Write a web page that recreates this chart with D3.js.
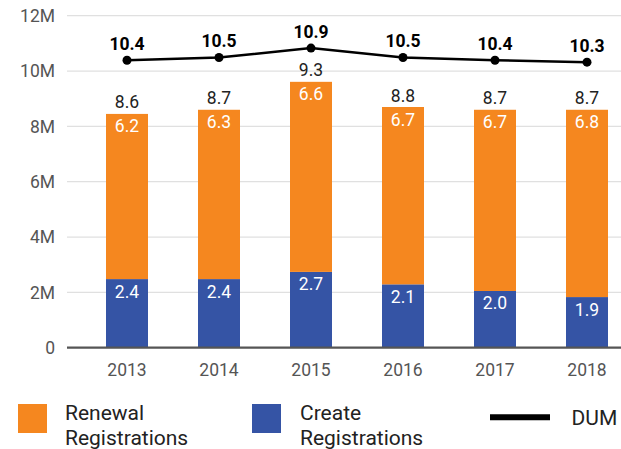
<!DOCTYPE html>
<html>
<head>
<meta charset="utf-8">
<script src="https://cdn.jsdelivr.net/npm/d3@7"></script>
<style>
  body { margin: 0; background: #fff; }
  svg { font-family: Roboto, "Noto Sans", sans-serif; }
</style>
</head>
<body>
<svg id="chart"></svg>
<script>
const years = ["2013", "2014", "2015", "2016", "2017", "2018"];
// bar heights as drawn (millions)
const createValues = [2.48, 2.48, 2.74, 2.29, 2.05, 1.83];
const renewalValues = [5.97, 6.12, 6.87, 6.41, 6.55, 6.77];
const dumValues = [10.39, 10.49, 10.83, 10.49, 10.39, 10.32];
// labels as printed
const createLabels = ["2.4", "2.4", "2.7", "2.1", "2.0", "1.9"];
const renewalLabels = ["6.2", "6.3", "6.6", "6.7", "6.7", "6.8"];
const totalLabels = ["8.6", "8.7", "9.3", "8.8", "8.7", "8.7"];
const dumLabels = ["10.4", "10.5", "10.9", "10.5", "10.4", "10.3"];
const yTicks = [0, 2, 4, 6, 8, 10, 12];

const W = 621, H = 449;
const orange = "#f5871f", blue = "#3554a5";

const svg = d3.select("#chart").attr("width", W).attr("height", H);

const x = d3.scaleBand().domain(years).range([81, 633])
    .paddingInner(0.5435).paddingOuter(0.27175);
const y = d3.scaleLinear().domain([0, 12]).range([347.7, 15.7]);

// grid
svg.append("g")
    .selectAll("line")
    .data(yTicks.filter(d => d > 0))
    .enter().append("line")
        .attr("x1", 67).attr("x2", W)
        .attr("y1", d => y(d)).attr("y2", d => y(d))
        .attr("stroke", "#e0e0e0").attr("stroke-width", 1.2);

// y tick labels
svg.append("g")
    .selectAll("text")
    .data(yTicks)
    .enter().append("text")
        .attr("x", 55)
        .attr("y", d => y(d) + 6.3)
        .attr("text-anchor", "end")
        .attr("fill", "#555")
        .style("font-size", "17.5px")
        .text(d => d === 0 ? "0" : d + "M");

const data = years.map((yr, i) => ({
    yr, c: createValues[i], r: renewalValues[i], dum: dumValues[i], i
}));

// create bars
svg.append("g").selectAll("rect")
    .data(data)
    .enter().append("rect")
        .attr("x", d => x(d.yr))
        .attr("width", x.bandwidth())
        .attr("y", d => y(d.c))
        .attr("height", d => y(0) - y(d.c))
        .attr("fill", blue);

// renewal bars
svg.append("g").selectAll("rect")
    .data(data)
    .enter().append("rect")
        .attr("x", d => x(d.yr))
        .attr("width", x.bandwidth())
        .attr("y", d => y(d.c + d.r))
        .attr("height", d => y(d.c) - y(d.c + d.r))
        .attr("fill", orange);

// axis line
svg.append("line")
    .attr("x1", 67).attr("x2", W)
    .attr("y1", y(0)).attr("y2", y(0))
    .attr("stroke", "#555").attr("stroke-width", 2.2);

// x labels
svg.append("g").selectAll("text")
    .data(years)
    .enter().append("text")
        .attr("x", d => x(d) + x.bandwidth() / 2)
        .attr("y", 375.7)
        .attr("text-anchor", "middle")
        .attr("fill", "#555")
        .style("font-size", "17.5px")
        .text(d => d);

const cx = d => x(d.yr) + x.bandwidth() / 2;

// bar labels
const labels = svg.append("g").attr("text-anchor", "middle").style("font-size", "17.5px");
labels.selectAll(".cl").data(data).enter().append("text")
    .attr("x", cx).attr("y", d => y(d.c) + 18.5)
    .attr("fill", "#fff").text(d => createLabels[d.i]);
labels.selectAll(".rl").data(data).enter().append("text")
    .attr("x", cx).attr("y", d => y(d.c + d.r) + 18.5)
    .attr("fill", "#fff").text(d => renewalLabels[d.i]);
labels.selectAll(".tl").data(data).enter().append("text")
    .attr("x", cx).attr("y", d => y(d.c + d.r) - 5.5)
    .attr("fill", "#222").text(d => totalLabels[d.i]);

// DUM line
const line = d3.line().x(cx).y(d => y(d.dum));
svg.append("path")
    .datum(data)
    .attr("d", line)
    .attr("fill", "none")
    .attr("stroke", "#000")
    .attr("stroke-width", 2.5);
svg.append("g").selectAll("circle")
    .data(data)
    .enter().append("circle")
        .attr("cx", cx).attr("cy", d => y(d.dum))
        .attr("r", 4.5).attr("fill", "#000");
svg.append("g").selectAll("text")
    .data(data)
    .enter().append("text")
        .attr("x", cx).attr("y", d => y(d.dum) - 10)
        .attr("text-anchor", "middle")
        .attr("fill", "#000")
        .style("font-size", "17.5px")
        .style("font-weight", "bold")
        .text(d => dumLabels[d.i]);

// legend
const legend = svg.append("g").style("font-size", "21px").attr("fill", "#222");
legend.append("rect").attr("x", 18).attr("y", 404).attr("width", 29).attr("height", 29).attr("fill", orange);
legend.append("text").attr("x", 65).attr("y", 419.5).text("Renewal");
legend.append("text").attr("x", 65).attr("y", 445).text("Registrations");
legend.append("rect").attr("x", 252).attr("y", 404).attr("width", 29).attr("height", 29).attr("fill", blue);
legend.append("text").attr("x", 300).attr("y", 419.5).text("Create");
legend.append("text").attr("x", 300).attr("y", 445).text("Registrations");
legend.append("line").attr("x1", 490).attr("x2", 550).attr("y1", 417.3).attr("y2", 417.3)
    .attr("stroke", "#000").attr("stroke-width", 6);
legend.append("text").attr("x", 571.5).attr("y", 424.7).text("DUM");
</script>
</body>
</html>
